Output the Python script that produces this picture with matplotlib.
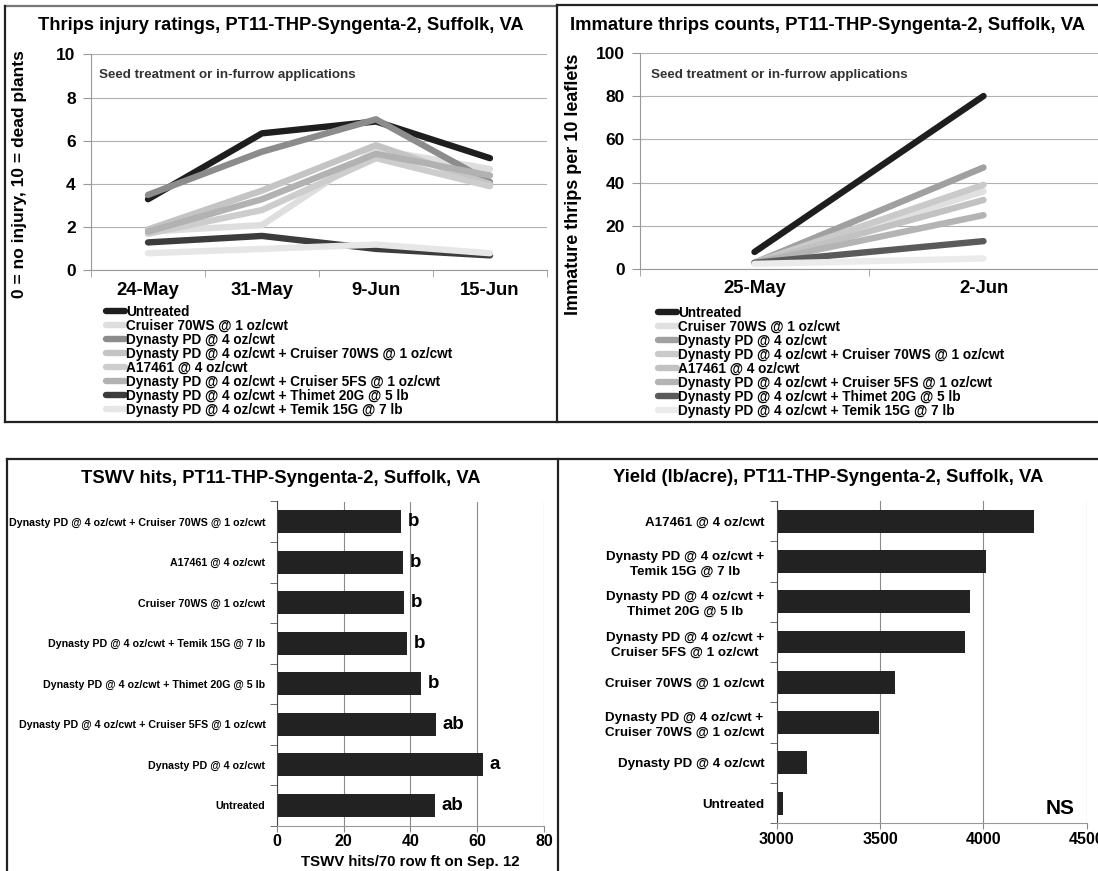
import matplotlib
matplotlib.use('Agg')
import matplotlib.pyplot as plt
from matplotlib.lines import Line2D
import numpy as np

plt.rcParams['font.family'] = ['Liberation Sans', 'DejaVu Sans']
plt.rcParams['font.weight'] = 'bold'
plt.rcParams['axes.labelweight'] = 'bold'

# Taille de l'image en pixels
W, H = 1098, 871

# Traitements (ordre de la légende)
traitements = [
    "Untreated",
    "Cruiser 70WS @ 1 oz/cwt",
    "Dynasty PD @ 4 oz/cwt",
    "Dynasty PD @ 4 oz/cwt + Cruiser 70WS @ 1 oz/cwt",
    "A17461 @ 4 oz/cwt",
    "Dynasty PD @ 4 oz/cwt + Cruiser 5FS @ 1 oz/cwt",
    "Dynasty PD @ 4 oz/cwt + Thimet 20G @ 5 lb",
    "Dynasty PD @ 4 oz/cwt + Temik 15G @ 7 lb",
]

# Notes de dégâts de thrips
dates_degats = ["24-May", "31-May", "9-Jun", "15-Jun"]
degats = [
    [3.3, 6.35, 6.9, 5.2],
    [1.8, 2.1, 5.6, 4.7],
    [3.5, 5.5, 7.0, 4.1],
    [1.9, 3.7, 5.8, 4.0],
    [1.7, 2.8, 5.2, 3.9],
    [1.8, 3.3, 5.4, 4.4],
    [1.3, 1.6, 1.0, 0.7],
    [0.8, 1.0, 1.2, 0.8],
]
gris_degats = ['#1e1e1e', '#dedede', '#8c8c8c', '#c4c4c4', '#cdcdcd', '#b2b2b2', '#3c3c3c', '#e6e6e6']

# Comptages de thrips immatures
dates_comptes = ["25-May", "2-Jun"]
comptes = [
    [8, 80],
    [3, 36],
    [3, 47],
    [3, 39],
    [3, 32],
    [3, 25],
    [3, 13],
    [2.5, 5],
]
gris_comptes = ['#1e1e1e', '#e0e0e0', '#a0a0a0', '#cacaca', '#c2c2c2', '#b4b4b4', '#5a5a5a', '#ebebeb']

# TSWV
tswv_noms = [
    "Dynasty PD @ 4 oz/cwt + Cruiser 70WS @ 1 oz/cwt",
    "A17461 @ 4 oz/cwt",
    "Cruiser 70WS @ 1 oz/cwt",
    "Dynasty PD @ 4 oz/cwt + Temik 15G @ 7 lb",
    "Dynasty PD @ 4 oz/cwt + Thimet 20G @ 5 lb",
    "Dynasty PD @ 4 oz/cwt + Cruiser 5FS @ 1 oz/cwt",
    "Dynasty PD @ 4 oz/cwt",
    "Untreated",
]
tswv = [37.1, 37.7, 38.2, 39.1, 43.2, 47.7, 61.8, 47.4]
tswv_lettres = ["b", "b", "b", "b", "b", "ab", "a", "ab"]

# Rendement
rdt_noms = [
    "A17461 @ 4 oz/cwt",
    "Dynasty PD @ 4 oz/cwt +\nTemik 15G @ 7 lb",
    "Dynasty PD @ 4 oz/cwt +\nThimet 20G @ 5 lb",
    "Dynasty PD @ 4 oz/cwt +\nCruiser 5FS @ 1 oz/cwt",
    "Cruiser 70WS @ 1 oz/cwt",
    "Dynasty PD @ 4 oz/cwt +\nCruiser 70WS @ 1 oz/cwt",
    "Dynasty PD @ 4 oz/cwt",
    "Untreated",
]
rendement = [4245, 4012, 3936, 3911, 3571, 3493, 3148, 3029]

fig = plt.figure(figsize=(W / 100, H / 100), dpi=100)


def axes_px(x0, y0, x1, y1):
    return fig.add_axes([x0 / W, 1 - y1 / H, (x1 - x0) / W, (y1 - y0) / H])


def trait(x0, y0, x1, y1, couleur='#222222'):
    fig.add_artist(Line2D([x0 / W, x1 / W], [1 - y0 / H, 1 - y1 / H],
                          transform=fig.transFigure, color=couleur, lw=1.6))


def texte_px(x, y, s, **kw):
    fig.text(x / W, 1 - y / H, s, **kw)


def graphe_lignes(ax, dates, series, couleurs, ymax, pas, x_leg, y_leg):
    x = np.arange(len(dates))
    for i, serie in enumerate(series):
        ax.plot(x, serie, color=couleurs[i], lw=4.6, solid_capstyle='round', label=traitements[i])
    ax.set_xlim(-0.5, len(dates) - 0.5)
    ax.set_ylim(0, ymax)
    ax.set_yticks(np.arange(0, ymax + 1, pas))
    ax.set_xticks(x)
    ax.set_xticklabels(dates)
    ax.set_xticks(np.arange(-0.5, len(dates)), minor=True)
    ax.tick_params(axis='x', which='major', length=0, pad=8, labelsize=13.3)
    ax.tick_params(axis='x', which='minor', length=5, color='#999999')
    ax.tick_params(axis='y', length=6, color='#999999', labelsize=12.5, pad=5)
    ax.grid(axis='y', color='#b0b0b0', lw=0.8)
    ax.set_axisbelow(True)
    for s in ['top', 'right']:
        ax.spines[s].set_visible(False)
    ax.spines['left'].set_color('#999999')
    ax.spines['bottom'].set_color('#999999')
    ax.legend(loc='upper left', bbox_to_anchor=(x_leg / W, 1 - y_leg / H),
              bbox_transform=fig.transFigure, frameon=False, fontsize=9.8,
              handlelength=1.4, handletextpad=0.1, labelspacing=0.0,
              borderpad=0, borderaxespad=0)


# Notes de dégâts
ax1 = axes_px(91, 54.5, 547, 270.5)
graphe_lignes(ax1, dates_degats, degats, gris_degats, 10, 2, 106, 305)
ax1.set_ylabel("0 = no injury, 10 = dead plants", fontsize=12.5)
ax1.yaxis.set_label_coords((27 - 91) / 456, (270.5 - 174) / 216)
texte_px(281, 25, "Thrips injury ratings, PT11-THP-Syngenta-2, Suffolk, VA",
         ha='center', va='center', fontsize=13.2)
texte_px(99, 75, "Seed treatment or in-furrow applications", va='center', fontsize=9.6, color='#333333')

# Comptages
ax2 = axes_px(640, 52.7, 1098, 269.3)
graphe_lignes(ax2, dates_comptes, comptes, gris_comptes, 100, 20, 658, 306)
ax2.set_ylabel("Immature thrips per 10 leaflets", fontsize=13)
ax2.yaxis.set_label_coords((582 - 640) / 458, (269.3 - 184) / 216.6)
texte_px(828, 25, "Immature thrips counts, PT11-THP-Syngenta-2, Suffolk, VA",
         ha='center', va='center', fontsize=13.3)
texte_px(651, 75, "Seed treatment or in-furrow applications", va='center', fontsize=9.6, color='#333333')


def graphe_barres(ax, noms, valeurs, xmin, xmax, pas, taille_noms, pad_noms):
    y = np.arange(len(noms))
    ax.barh(y, np.array(valeurs) - xmin, left=xmin, height=0.57, color='#222222')
    ax.set_xlim(xmin, xmax)
    ax.set_xticks(np.arange(xmin, xmax + 1, pas))
    ax.set_ylim(len(noms) - 0.5, -0.5)
    ax.set_yticks(y)
    ax.set_yticklabels(noms, fontsize=taille_noms, multialignment='center', linespacing=1.32)
    ax.set_yticks(np.arange(-0.5, len(noms)), minor=True)
    ax.tick_params(axis='y', which='major', length=0, pad=pad_noms)
    ax.tick_params(axis='y', which='minor', length=5, color='#555555')
    ax.tick_params(axis='x', length=4, color='#888888', labelsize=11.5, pad=2)
    ax.grid(axis='x', color='#8a8a8a', lw=0.8)
    ax.set_axisbelow(True)
    for s in ['top', 'right']:
        ax.spines[s].set_visible(False)
    ax.spines['left'].set_color('#444444')
    ax.spines['bottom'].set_color('#999999')


# TSWV
ax3 = axes_px(276.7, 501.5, 544, 825.7)
graphe_barres(ax3, tswv_noms, tswv, 0, 80, 20, 7.7, 8)
for i, (v, l) in enumerate(zip(tswv, tswv_lettres)):
    ax3.text(v + 2, i, l, va='center', ha='left', fontsize=13.5)
ax3.set_xlabel("TSWV hits/70 row ft on Sep. 12", fontsize=10.8, labelpad=4.5)
texte_px(281, 478, "TSWV hits, PT11-THP-Syngenta-2, Suffolk, VA",
         ha='center', va='center', fontsize=13.2)

# Rendement
ax4 = axes_px(776.7, 501, 1086.7, 823.3)
graphe_barres(ax4, rdt_noms, rendement, 3000, 4500, 500, 9.6, 9)
ax4.text(0.914, 0.047, "NS", transform=ax4.transAxes, ha='center', va='center', fontsize=15)
texte_px(828, 477, "Yield (lb/acre), PT11-THP-Syngenta-2, Suffolk, VA",
         ha='center', va='center', fontsize=13.3)

# Cadres des graphiques
trait(5, 6, 557, 6, '#777777')
trait(5, 6, 5, 422)
trait(5, 422, 1098, 422)
trait(557, 5, 557, 422)
trait(557, 5, 1098, 5)
trait(7, 459, 1098, 459)
trait(7, 459, 7, 871)
trait(558, 459, 558, 871)

plt.savefig("out.png", dpi=100)
